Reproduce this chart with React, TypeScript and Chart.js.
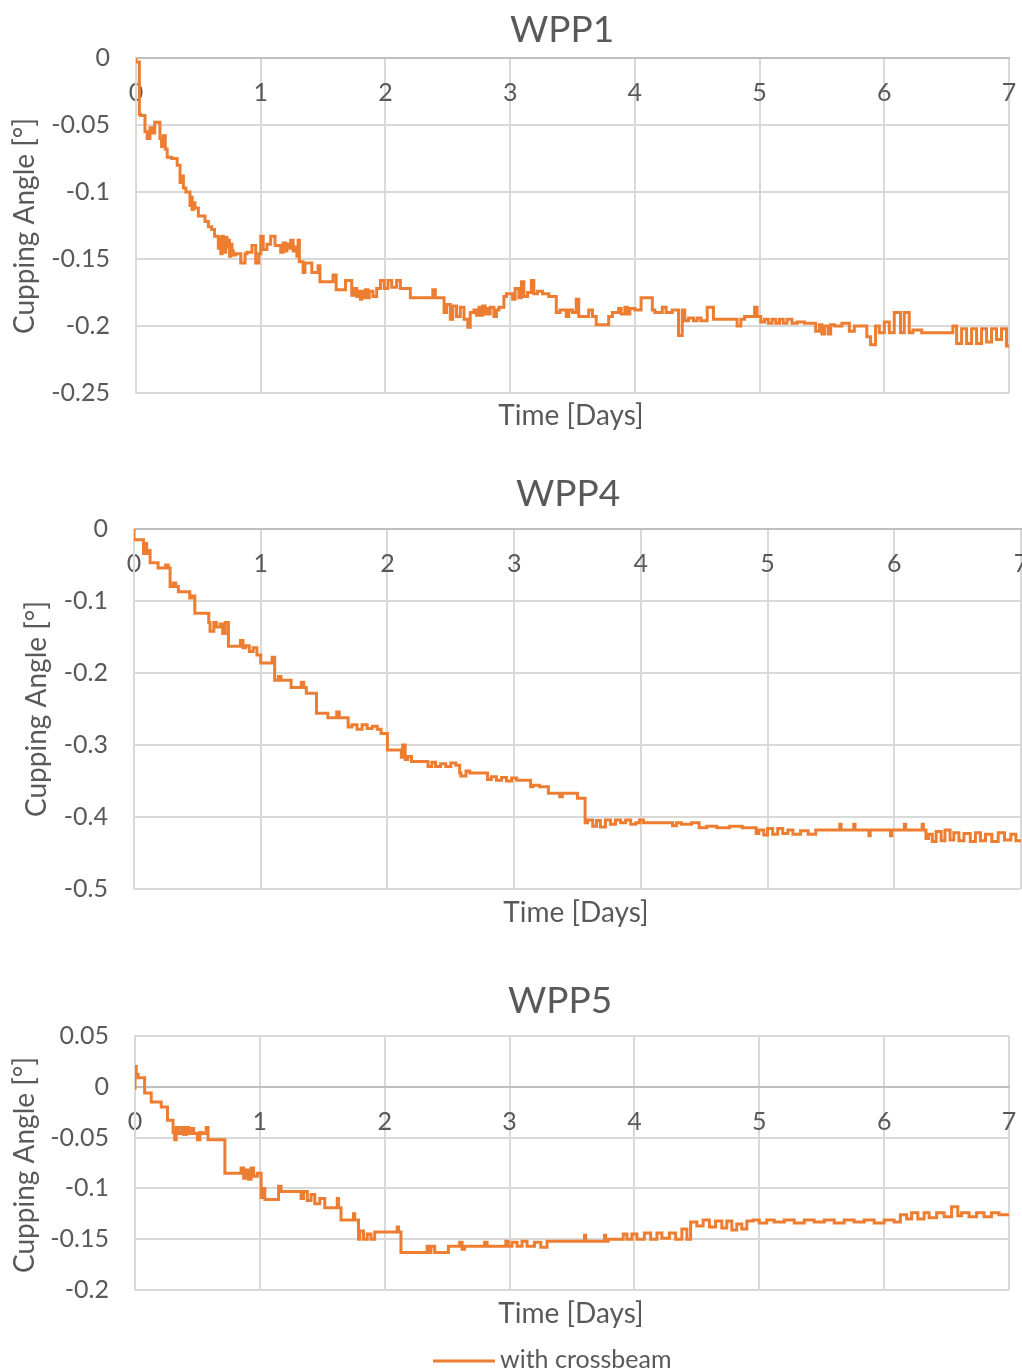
import { useEffect, useRef } from "react";
import { Chart, registerables } from "chart.js";

Chart.register(...registerables);

// ---------- data ----------
const dayTicks = [0, 1, 2, 3, 4, 5, 6, 7];
const dayTickLabels = ["0", "1", "2", "3", "4", "5", "6", "7"];

const wpp1AngleTicks = [0, -0.05, -0.1, -0.15, -0.2, -0.25];
const wpp1AngleTickLabels = ["0", "-0.05", "-0.1", "-0.15", "-0.2", "-0.25"];
const wpp4AngleTicks = [0, -0.1, -0.2, -0.3, -0.4, -0.5];
const wpp4AngleTickLabels = ["0", "-0.1", "-0.2", "-0.3", "-0.4", "-0.5"];
const wpp5AngleTicks = [0.05, 0, -0.05, -0.1, -0.15, -0.2];
const wpp5AngleTickLabels = ["0.05", "0", "-0.05", "-0.1", "-0.15", "-0.2"];

const panelTitles = ["WPP1", "WPP4", "WPP5"];
const yAxisTitle = "Cupping Angle [°]";
const xAxisTitle = "Time [Days]";
const seriesLabel = "with crossbeam";

// [day, cupping angle]
const wpp1 = [
  [0, 0], [0.027, -0.003], [0.037, -0.042], [0.072, -0.043], [0.09, -0.055], [0.112, -0.06], [0.13, -0.052],
  [0.15, -0.056], [0.192, -0.048], [0.205, -0.06], [0.219, -0.066], [0.235, -0.058], [0.25, -0.068],
  [0.286, -0.074], [0.33, -0.075], [0.353, -0.08], [0.365, -0.093], [0.38, -0.088], [0.4, -0.097],
  [0.433, -0.1], [0.44, -0.11], [0.45, -0.104], [0.46, -0.113], [0.473, -0.108], [0.5, -0.112], [0.553, -0.118], [0.58, -0.122],
  [0.607, -0.126], [0.63, -0.128], [0.66, -0.133], [0.67, -0.142], [0.68, -0.134], [0.69, -0.146], [0.7, -0.133], [0.71, -0.14], [0.72, -0.145],
  [0.73, -0.134], [0.74, -0.141], [0.75, -0.136], [0.76, -0.148], [0.77, -0.139], [0.78, -0.144], [0.8, -0.147], [0.84, -0.146], [0.874, -0.153],
  [0.89, -0.146], [0.93, -0.145], [0.96, -0.14], [0.985, -0.153], [1.0, -0.146], [1.02, -0.133],
  [1.05, -0.143], [1.08, -0.139], [1.115, -0.133], [1.13, -0.14], [1.16, -0.14], [1.18, -0.145],
  [1.2, -0.138], [1.21, -0.144], [1.22, -0.139], [1.24, -0.142], [1.26, -0.136], [1.27, -0.144], [1.29, -0.141], [1.3, -0.148], [1.31, -0.136], [1.34, -0.152],
  [1.355, -0.16], [1.38, -0.153], [1.41, -0.153], [1.43, -0.16], [1.46, -0.16], [1.475, -0.155],
  [1.5, -0.167], [1.58, -0.167], [1.605, -0.162], [1.62, -0.173], [1.68, -0.173], [1.69, -0.166],
  [1.73, -0.166], [1.75, -0.177], [1.77, -0.172], [1.78, -0.178], [1.8, -0.174], [1.81, -0.18], [1.83, -0.174], [1.84, -0.179], [1.86, -0.173], [1.87, -0.179],
  [1.9, -0.174], [1.93, -0.178], [1.96, -0.172], [1.99, -0.166], [2.02, -0.172], [2.05, -0.166],
  [2.09, -0.171], [2.12, -0.166], [2.15, -0.172], [2.2, -0.172], [2.21, -0.179], [2.38, -0.179],
  [2.4, -0.173], [2.42, -0.179], [2.47, -0.179], [2.49, -0.19], [2.52, -0.184], [2.54, -0.195],
  [2.57, -0.185], [2.6, -0.193], [2.63, -0.186], [2.66, -0.195], [2.68, -0.201], [2.71, -0.19],
  [2.73, -0.188], [2.75, -0.192], [2.76, -0.186], [2.78, -0.192], [2.8, -0.185], [2.81, -0.191], [2.83, -0.187], [2.84, -0.191], [2.87, -0.186], [2.89, -0.193], [2.91, -0.188],
  [2.95, -0.186], [2.97, -0.178], [3.02, -0.176], [3.04, -0.18], [3.07, -0.172], [3.09, -0.179], [3.11, -0.167],
  [3.14, -0.178], [3.17, -0.175], [3.19, -0.166], [3.22, -0.176], [3.26, -0.174], [3.31, -0.176],
  [3.37, -0.178], [3.4, -0.19], [3.45, -0.188], [3.47, -0.193], [3.5, -0.188], [3.53, -0.19],
  [3.55, -0.18], [3.57, -0.193], [3.63, -0.193], [3.66, -0.188], [3.69, -0.193], [3.71, -0.199],
  [3.79, -0.199], [3.82, -0.193], [3.87, -0.19], [3.89, -0.187], [3.92, -0.191], [3.94, -0.186], [3.96, -0.191], [4.0, -0.187],
  [4.05, -0.188], [4.09, -0.179], [4.14, -0.179], [4.16, -0.188], [4.22, -0.19], [4.25, -0.186],
  [4.3, -0.19], [4.35, -0.188], [4.38, -0.207], [4.4, -0.188], [4.43, -0.196], [4.47, -0.194],
  [4.5, -0.196], [4.53, -0.194], [4.58, -0.196], [4.63, -0.186], [4.66, -0.195], [4.82, -0.195],
  [4.85, -0.2], [4.88, -0.195], [4.96, -0.193], [4.98, -0.186], [5.01, -0.193], [5.04, -0.197],
  [5.07, -0.195], [5.1, -0.198], [5.13, -0.195], [5.16, -0.198], [5.19, -0.195], [5.22, -0.198], [5.26, -0.195], [5.3, -0.198], [5.36, -0.197], [5.45, -0.198],
  [5.48, -0.204], [5.5, -0.199], [5.52, -0.206], [5.55, -0.2], [5.57, -0.206], [5.6, -0.199], [5.66, -0.2], [5.72, -0.198],
  [5.76, -0.204], [5.8, -0.2], [5.86, -0.2], [5.89, -0.208], [5.93, -0.214], [5.96, -0.2],
  [6.0, -0.205], [6.04, -0.197], [6.08, -0.205], [6.13, -0.19], [6.16, -0.205], [6.2, -0.19],
  [6.23, -0.205], [6.3, -0.203], [6.38, -0.205], [6.55, -0.205], [6.58, -0.2], [6.62, -0.213],
  [6.66, -0.202], [6.7, -0.213], [6.74, -0.202], [6.78, -0.213], [6.82, -0.202], [6.86, -0.212],
  [6.9, -0.202], [6.94, -0.21], [6.98, -0.202], [7.0, -0.215],
];

const wpp4 = [
  [0, 0], [0.009, -0.015], [0.075, -0.015], [0.088, -0.034], [0.1, -0.02], [0.113, -0.034], [0.127, -0.03],
  [0.14, -0.047], [0.19, -0.047], [0.2, -0.054], [0.25, -0.054], [0.27, -0.05], [0.285, -0.054],
  [0.31, -0.08], [0.33, -0.075], [0.35, -0.08], [0.36, -0.087], [0.44, -0.087], [0.455, -0.096],
  [0.48, -0.093], [0.495, -0.117], [0.59, -0.117], [0.6, -0.13], [0.63, -0.142], [0.65, -0.13],
  [0.68, -0.136], [0.7, -0.132], [0.72, -0.145], [0.745, -0.13], [0.78, -0.163], [0.84, -0.163],
  [0.86, -0.155], [0.88, -0.165], [0.91, -0.162], [0.94, -0.17], [0.97, -0.165], [1.0, -0.175],
  [1.02, -0.186], [1.09, -0.186], [1.11, -0.178], [1.14, -0.21], [1.16, -0.205], [1.2, -0.21],
  [1.24, -0.21], [1.26, -0.22], [1.32, -0.22], [1.34, -0.213], [1.36, -0.22], [1.4, -0.228],
  [1.44, -0.228], [1.45, -0.256], [1.53, -0.256], [1.55, -0.262], [1.6, -0.262], [1.62, -0.254],
  [1.64, -0.262], [1.69, -0.262], [1.72, -0.275], [1.76, -0.272], [1.8, -0.278], [1.84, -0.272],
  [1.88, -0.277], [1.92, -0.274], [1.95, -0.278], [1.97, -0.284], [2.0, -0.284], [2.02, -0.307],
  [2.11, -0.307], [2.12, -0.317], [2.14, -0.3], [2.16, -0.32], [2.19, -0.316], [2.22, -0.323],
  [2.32, -0.323], [2.35, -0.33], [2.38, -0.324], [2.42, -0.33], [2.46, -0.326], [2.5, -0.33],
  [2.54, -0.325], [2.57, -0.328], [2.58, -0.339], [2.62, -0.343], [2.65, -0.336], [2.79, -0.339],
  [2.82, -0.348], [2.86, -0.344], [2.9, -0.349], [2.94, -0.345], [2.98, -0.35], [3.02, -0.346],
  [3.08, -0.349], [3.13, -0.349], [3.15, -0.358], [3.2, -0.356], [3.27, -0.358], [3.29, -0.367],
  [3.36, -0.367], [3.38, -0.372], [3.42, -0.367], [3.5, -0.367], [3.53, -0.374], [3.56, -0.374],
  [3.58, -0.408], [3.62, -0.404], [3.65, -0.413], [3.68, -0.405], [3.72, -0.414], [3.76, -0.404],
  [3.8, -0.41], [3.84, -0.404], [3.88, -0.408], [3.92, -0.404], [3.96, -0.41], [3.99, -0.408],
  [4.02, -0.404], [4.05, -0.408], [4.25, -0.408], [4.28, -0.412], [4.32, -0.408], [4.4, -0.41],
  [4.46, -0.408], [4.52, -0.415], [4.6, -0.413], [4.7, -0.415], [4.8, -0.413], [4.91, -0.415],
  [4.93, -0.423], [4.97, -0.418], [5.0, -0.425], [5.04, -0.416], [5.08, -0.424], [5.12, -0.416],
  [5.16, -0.423], [5.2, -0.418], [5.26, -0.424], [5.32, -0.419], [5.38, -0.424], [5.46, -0.418],
  [5.57, -0.418], [5.58, -0.41], [5.6, -0.418], [5.68, -0.418], [5.69, -0.41], [5.71, -0.418],
  [5.8, -0.418], [5.81, -0.426], [5.83, -0.418], [5.97, -0.418], [5.98, -0.426], [6.0, -0.418],
  [6.08, -0.418], [6.09, -0.41], [6.11, -0.418], [6.22, -0.418], [6.23, -0.41], [6.25, -0.418],
  [6.27, -0.43], [6.3, -0.424], [6.33, -0.434], [6.37, -0.42], [6.4, -0.433], [6.44, -0.418],
  [6.47, -0.432], [6.51, -0.422], [6.55, -0.433], [6.6, -0.423], [6.64, -0.434], [6.68, -0.422],
  [6.72, -0.433], [6.77, -0.424], [6.82, -0.434], [6.87, -0.422], [6.92, -0.432], [6.96, -0.424],
  [7.0, -0.433],
];

const wpp5 = [
  [0, -0.003], [0.01, 0.02], [0.025, 0.012], [0.037, 0.009], [0.077, 0.009], [0.09, -0.006], [0.13, -0.006],
  [0.16, -0.015], [0.21, -0.015], [0.22, -0.02], [0.26, -0.02], [0.28, -0.033], [0.305, -0.033],
  [0.318, -0.045], [0.33, -0.052], [0.345, -0.04], [0.37, -0.046], [0.39, -0.04], [0.41, -0.047],
  [0.43, -0.04], [0.45, -0.046], [0.47, -0.041], [0.5, -0.046], [0.52, -0.052], [0.54, -0.045],
  [0.57, -0.046], [0.585, -0.04], [0.6, -0.052], [0.72, -0.052], [0.725, -0.085], [0.85, -0.085],
  [0.87, -0.08], [0.89, -0.09], [0.91, -0.082], [0.93, -0.091], [0.95, -0.08], [0.98, -0.088],
  [1.01, -0.085], [1.025, -0.109], [1.04, -0.1], [1.065, -0.111], [1.15, -0.111], [1.17, -0.098],
  [1.19, -0.103], [1.33, -0.103], [1.35, -0.11], [1.38, -0.103], [1.41, -0.112], [1.44, -0.106],
  [1.48, -0.115], [1.52, -0.11], [1.55, -0.119], [1.62, -0.119], [1.63, -0.11], [1.65, -0.119],
  [1.68, -0.131], [1.75, -0.131], [1.76, -0.125], [1.79, -0.131], [1.8, -0.15], [1.83, -0.142],
  [1.86, -0.15], [1.89, -0.145], [1.92, -0.15], [1.93, -0.143], [2.1, -0.143], [2.11, -0.138],
  [2.13, -0.143], [2.15, -0.163], [2.34, -0.163], [2.35, -0.157], [2.37, -0.163], [2.4, -0.157],
  [2.42, -0.163], [2.51, -0.163], [2.52, -0.157], [2.6, -0.157], [2.62, -0.153], [2.64, -0.16],
  [2.66, -0.157], [2.8, -0.157], [2.82, -0.153], [2.84, -0.157], [2.97, -0.157], [2.99, -0.152],
  [3.02, -0.157], [3.06, -0.153], [3.1, -0.157], [3.14, -0.152], [3.2, -0.157], [3.25, -0.153],
  [3.3, -0.158], [3.33, -0.152], [3.6, -0.152], [3.61, -0.146], [3.63, -0.152], [3.76, -0.152],
  [3.77, -0.146], [3.79, -0.152], [3.91, -0.15], [3.94, -0.145], [3.98, -0.15], [4.02, -0.145],
  [4.08, -0.15], [4.13, -0.144], [4.18, -0.15], [4.22, -0.144], [4.28, -0.149], [4.33, -0.144],
  [4.38, -0.15], [4.42, -0.14], [4.45, -0.15], [4.5, -0.133], [4.55, -0.137], [4.6, -0.131],
  [4.65, -0.138], [4.7, -0.132], [4.74, -0.139], [4.78, -0.132], [4.82, -0.141], [4.86, -0.135],
  [4.9, -0.14], [4.95, -0.132], [5.0, -0.131], [5.06, -0.134], [5.12, -0.131], [5.2, -0.133],
  [5.28, -0.131], [5.36, -0.134], [5.44, -0.131], [5.52, -0.133], [5.6, -0.131], [5.68, -0.134],
  [5.76, -0.131], [5.84, -0.133], [5.92, -0.131], [6.0, -0.134], [6.08, -0.131], [6.13, -0.133],
  [6.18, -0.126], [6.22, -0.13], [6.27, -0.124], [6.32, -0.13], [6.36, -0.124], [6.42, -0.129],
  [6.48, -0.124], [6.54, -0.128], [6.59, -0.118], [6.62, -0.127], [6.68, -0.124], [6.74, -0.128],
  [6.8, -0.124], [6.86, -0.128], [6.92, -0.124], [7.0, -0.126],
];

// ---------- style ----------
const FONT = "Lato, 'Open Sans', sans-serif";
const TEXT = "#595959";
const GRID = "#d9d9d9";
const AXIS = "#bfbfbf";
const LINE = "#ED7D31";

const textPlugin = {
  id: "panelText",
  afterDraw(chart: any, _args: any, o: any) {
    const ctx = chart.ctx;
    ctx.save();
    ctx.fillStyle = TEXT;
    ctx.textBaseline = "middle";
    ctx.textAlign = "center";
    ctx.font = `37px ${FONT}`;
    ctx.fillText(o.title, o.titleX, o.titleY);
    ctx.font = `28px ${FONT}`;
    ctx.fillText(o.xTitle, o.xTitleX, o.xTitleY);
    ctx.save();
    ctx.translate(o.yTitleX, o.yTitleY);
    ctx.rotate(-Math.PI / 2);
    ctx.fillText(o.yTitle, 0, 0);
    ctx.restore();
    if (o.legend) {
      const ds = chart.data.datasets[0];
      ctx.strokeStyle = ds.borderColor;
      ctx.lineWidth = 3;
      ctx.beginPath();
      ctx.moveTo(o.legendX, o.legendY);
      ctx.lineTo(o.legendX + 62, o.legendY);
      ctx.stroke();
      ctx.textAlign = "left";
      ctx.font = `25px ${FONT}`;
      ctx.fillText(ds.label, o.legendX + 67, o.legendY - 1);
    }
    ctx.restore();
  },
};

type PanelProps = {
  top: number;
  width: number;
  height: number;
  points: number[][];
  yTicks: number[];
  yTickLabels: string[];
  area: { left: number; top: number; right: number; bottom: number };
  text: any;
};

function Panel({ top, width, height, points, yTicks, yTickLabels, area, text }: PanelProps) {
  const ref = useRef<HTMLCanvasElement | null>(null);
  useEffect(() => {
    if (!ref.current) return;
    const chart = new Chart(ref.current, {
      type: "line",
      data: {
        datasets: [
          {
            label: seriesLabel,
            data: points.map((p) => ({ x: p[0], y: p[1] })),
            borderColor: LINE,
            backgroundColor: LINE,
            borderWidth: 3,
            pointRadius: 0,
            stepped: "after",
          },
        ],
      },
      options: {
        responsive: false,
        animation: false,
        events: [],
        layout: {
          padding: { left: 0, top: area.top, right: width - area.right, bottom: height - area.bottom },
        },
        plugins: {
          legend: { display: false },
          tooltip: { enabled: false },
          panelText: text,
        } as any,
        scales: {
          x: {
            type: "linear",
            min: 0,
            max: 7,
            position: { y: 0 } as any,
            afterBuildTicks: (s: any) => {
              s.ticks = dayTicks.map((v) => ({ value: v }));
            },
            ticks: {
              callback: (v: any) => dayTickLabels[dayTicks.indexOf(Number(v))] ?? "",
              color: TEXT,
              font: { family: FONT, size: 25 },
              padding: 0,
              maxRotation: 0,
              autoSkip: false,
            },
            grid: { color: GRID, lineWidth: 2, drawTicks: true, tickLength: 20 },
            border: { display: true, color: AXIS, width: 2 },
          },
          y: {
            type: "linear",
            min: Math.min(...yTicks),
            max: Math.max(...yTicks),
            afterBuildTicks: (s: any) => {
              s.ticks = yTicks.map((v) => ({ value: v }));
            },
            afterFit: (s: any) => {
              s.width = area.left;
            },
            ticks: {
              callback: (v: any) => {
                const i = yTicks.findIndex((t) => Math.abs(t - Number(v)) < 1e-9);
                return i >= 0 ? yTickLabels[i] : "";
              },
              color: TEXT,
              font: { family: FONT, size: 25 },
              padding: 26,
            },
            grid: { color: GRID, lineWidth: 2, drawTicks: false },
            border: { display: true, color: GRID, width: 2 },
          },
        },
      } as any,
      plugins: [textPlugin as any],
    });
    return () => chart.destroy();
  }, []);
  return (
    <canvas
      ref={ref}
      width={width}
      height={height}
      style={{ position: "absolute", left: 0, top, width, height }}
    />
  );
}

export default function App() {
  return (
    <div
      style={{
        position: "absolute",
        left: 0,
        top: 0,
        width: 1022,
        height: 1372,
        overflow: "hidden",
        background: "#fff",
      }}
    >
      <Panel
        top={0}
        width={1022}
        height={440}
        points={wpp1}
        yTicks={wpp1AngleTicks}
        yTickLabels={wpp1AngleTickLabels}
        area={{ left: 136, top: 58, right: 1009, bottom: 393 }}
        text={{
          title: panelTitles[0], titleX: 562, titleY: 30,
          xTitle: xAxisTitle, xTitleX: 571, xTitleY: 416,
          yTitle: yAxisTitle, yTitleX: 25, yTitleY: 226,
        }}
      />
      <Panel
        top={460}
        width={1032}
        height={470}
        points={wpp4}
        yTicks={wpp4AngleTicks}
        yTickLabels={wpp4AngleTickLabels}
        area={{ left: 134, top: 69, right: 1021, bottom: 429 }}
        text={{
          title: panelTitles[1], titleX: 568, titleY: 34,
          xTitle: xAxisTitle, xTitleX: 576, xTitleY: 453,
          yTitle: yAxisTitle, yTitleX: 37, yTitleY: 249,
        }}
      />
      <Panel
        top={960}
        width={1022}
        height={412}
        points={wpp5}
        yTicks={wpp5AngleTicks}
        yTickLabels={wpp5AngleTickLabels}
        area={{ left: 135, top: 76, right: 1009, bottom: 330 }}
        text={{
          title: panelTitles[2], titleX: 560, titleY: 41,
          xTitle: xAxisTitle, xTitleX: 571, xTitleY: 354,
          yTitle: yAxisTitle, yTitleX: 25, yTitleY: 205,
          legend: true, legendX: 433, legendY: 401,
        }}
      />
    </div>
  );
}
